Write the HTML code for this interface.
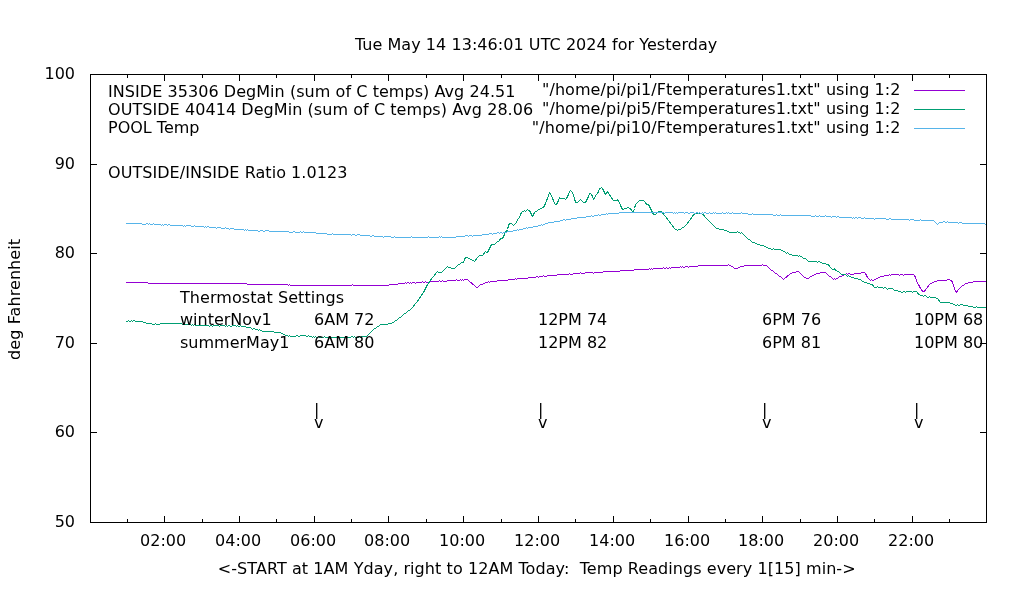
<!DOCTYPE html>
<html lang="en"><head><meta charset="utf-8"><title>Temperatures</title>
<style>
html,body{margin:0;padding:0;background:#fff;}
body{width:1020px;height:600px;overflow:hidden;}
svg{display:block;will-change:transform;}
text{font-family:"DejaVu Sans","Liberation Sans",sans-serif;font-size:16px;fill:#000;}
.e{text-anchor:end} .m{text-anchor:middle}
.ax{fill:none;stroke:#000;stroke-width:1;shape-rendering:crispEdges}
.c,.k{fill:none;stroke-width:1;stroke-linejoin:round;stroke-linecap:square;shape-rendering:crispEdges} .k{stroke-linecap:butt}
</style></head><body>
<svg width="1020" height="600" viewBox="0 0 1020 600">
<rect width="1020" height="600" fill="#fff"/>
<path class="c" stroke="#9400d3" d="M126.5 282.5L147.5 282.5L148.5 283.5L246.5 283.5L247.5 284.5L287.5 284.5L288.5 285.5L289.5 284.5L290.5 285.5L351.5 285.5L352.5 284.5L353.5 285.5L388.5 285.5L389.5 284.5L397.5 284.5L398.5 283.5L404.5 283.5L405.5 282.5L406.5 283.5L407.5 282.5L408.5 282.5L409.5 283.5L410.5 282.5L411.5 283.5L412.5 282.5L414.5 282.5L415.5 283.5L416.5 282.5L421.5 282.5L422.5 281.5L423.5 282.5L424.5 282.5L425.5 281.5L426.5 282.5L428.5 282.5L429.5 281.5L438.5 281.5L439.5 280.5L440.5 281.5L441.5 281.5L442.5 280.5L443.5 281.5L446.5 281.5L447.5 280.5L455.5 280.5L456.5 279.5L457.5 280.5L459.5 280.5L460.5 279.5L461.5 280.5L462.5 279.5L463.5 280.5L464.5 279.5L467.5 279.5L468.5 280.5L469.5 281.5L470.5 282.5L471.5 282.5L472.5 284.5L473.5 284.5L474.5 285.5L475.5 286.5L476.5 287.5L477.5 287.5L478.5 286.5L479.5 285.5L480.5 284.5L482.5 284.5L483.5 283.5L484.5 283.5L485.5 282.5L487.5 282.5L488.5 281.5L489.5 282.5L490.5 281.5L496.5 281.5L497.5 280.5L507.5 280.5L508.5 279.5L514.5 279.5L515.5 278.5L516.5 279.5L517.5 278.5L527.5 278.5L528.5 277.5L535.5 277.5L536.5 276.5L537.5 276.5L538.5 277.5L539.5 276.5L542.5 276.5L543.5 275.5L544.5 276.5L546.5 276.5L547.5 275.5L556.5 275.5L557.5 274.5L568.5 274.5L569.5 273.5L570.5 274.5L572.5 274.5L573.5 273.5L579.5 273.5L580.5 272.5L581.5 273.5L584.5 273.5L585.5 272.5L592.5 272.5L593.5 273.5L594.5 272.5L602.5 272.5L603.5 271.5L619.5 271.5L620.5 270.5L633.5 270.5L634.5 269.5L648.5 269.5L649.5 268.5L650.5 269.5L651.5 268.5L652.5 269.5L653.5 268.5L662.5 268.5L663.5 267.5L664.5 268.5L665.5 268.5L666.5 267.5L667.5 268.5L668.5 268.5L669.5 267.5L670.5 268.5L671.5 267.5L679.5 267.5L680.5 266.5L681.5 267.5L682.5 266.5L683.5 267.5L684.5 267.5L685.5 266.5L687.5 266.5L688.5 267.5L689.5 266.5L697.5 266.5L698.5 265.5L727.5 265.5L728.5 264.5L729.5 265.5L730.5 265.5L731.5 266.5L732.5 266.5L733.5 267.5L734.5 268.5L737.5 268.5L738.5 267.5L739.5 267.5L740.5 266.5L743.5 266.5L744.5 265.5L761.5 265.5L762.5 264.5L763.5 265.5L766.5 265.5L767.5 266.5L768.5 267.5L769.5 268.5L770.5 269.5L771.5 270.5L772.5 270.5L773.5 271.5L774.5 272.5L775.5 273.5L776.5 273.5L777.5 274.5L778.5 275.5L779.5 276.5L780.5 276.5L781.5 277.5L782.5 278.5L783.5 279.5L784.5 278.5L785.5 277.5L786.5 277.5L787.5 275.5L788.5 275.5L789.5 274.5L790.5 273.5L791.5 273.5L792.5 272.5L795.5 272.5L796.5 271.5L798.5 271.5L799.5 272.5L800.5 273.5L801.5 274.5L802.5 275.5L803.5 276.5L804.5 277.5L805.5 277.5L806.5 278.5L808.5 278.5L809.5 277.5L810.5 276.5L811.5 276.5L812.5 275.5L813.5 275.5L814.5 274.5L815.5 274.5L816.5 273.5L819.5 273.5L820.5 272.5L825.5 272.5L826.5 273.5L827.5 274.5L828.5 275.5L829.5 276.5L830.5 276.5L831.5 277.5L832.5 278.5L833.5 279.5L834.5 278.5L835.5 279.5L836.5 278.5L837.5 278.5L838.5 277.5L839.5 276.5L841.5 276.5L842.5 275.5L843.5 275.5L844.5 274.5L845.5 274.5L846.5 273.5L847.5 274.5L848.5 273.5L849.5 273.5L850.5 274.5L853.5 274.5L854.5 273.5L860.5 273.5L861.5 272.5L864.5 272.5L865.5 273.5L866.5 275.5L867.5 277.5L868.5 278.5L869.5 279.5L870.5 280.5L871.5 279.5L872.5 280.5L873.5 280.5L874.5 279.5L875.5 279.5L876.5 278.5L877.5 278.5L878.5 277.5L879.5 277.5L880.5 276.5L883.5 276.5L884.5 275.5L888.5 275.5L889.5 274.5L890.5 275.5L891.5 274.5L898.5 274.5L899.5 275.5L900.5 274.5L902.5 274.5L903.5 275.5L904.5 274.5L913.5 274.5L914.5 275.5L915.5 277.5L916.5 280.5L917.5 283.5L918.5 284.5L919.5 286.5L920.5 288.5L921.5 289.5L922.5 291.5L924.5 291.5L925.5 289.5L926.5 288.5L927.5 287.5L928.5 285.5L929.5 284.5L930.5 283.5L931.5 283.5L932.5 282.5L933.5 282.5L934.5 281.5L936.5 281.5L937.5 280.5L946.5 280.5L947.5 279.5L949.5 279.5L950.5 280.5L951.5 280.5L952.5 282.5L953.5 285.5L954.5 288.5L955.5 291.5L956.5 292.5L957.5 290.5L958.5 289.5L959.5 288.5L960.5 287.5L961.5 286.5L962.5 285.5L963.5 285.5L964.5 284.5L965.5 283.5L967.5 283.5L968.5 282.5L972.5 282.5L973.5 281.5L986.5 281.5"/>
<path class="c" stroke="#009e73" d="M126.5 321.5L127.5 321.5L128.5 320.5L129.5 321.5L130.5 321.5L131.5 320.5L132.5 321.5L133.5 320.5L134.5 320.5L135.5 321.5L142.5 321.5L143.5 322.5L145.5 322.5L146.5 323.5L151.5 323.5L152.5 324.5L154.5 324.5L155.5 323.5L156.5 324.5L159.5 324.5L160.5 323.5L181.5 323.5L182.5 324.5L183.5 323.5L184.5 324.5L190.5 324.5L191.5 325.5L192.5 324.5L193.5 325.5L194.5 324.5L195.5 325.5L208.5 325.5L209.5 326.5L210.5 325.5L211.5 325.5L212.5 326.5L213.5 325.5L218.5 325.5L219.5 326.5L220.5 325.5L224.5 325.5L225.5 326.5L226.5 325.5L227.5 326.5L228.5 325.5L229.5 325.5L230.5 326.5L231.5 326.5L232.5 325.5L235.5 325.5L236.5 326.5L237.5 325.5L238.5 326.5L239.5 326.5L240.5 325.5L241.5 326.5L245.5 326.5L246.5 327.5L250.5 327.5L251.5 328.5L252.5 329.5L253.5 328.5L254.5 328.5L255.5 329.5L257.5 329.5L258.5 330.5L259.5 329.5L260.5 330.5L261.5 330.5L262.5 331.5L273.5 331.5L274.5 332.5L280.5 332.5L281.5 333.5L282.5 333.5L283.5 334.5L284.5 334.5L285.5 335.5L287.5 335.5L288.5 336.5L289.5 335.5L290.5 336.5L295.5 336.5L296.5 335.5L297.5 335.5L298.5 336.5L299.5 336.5L300.5 335.5L305.5 335.5L306.5 336.5L307.5 336.5L308.5 335.5L309.5 336.5L311.5 336.5L312.5 337.5L313.5 336.5L314.5 337.5L315.5 336.5L316.5 337.5L317.5 337.5L318.5 336.5L319.5 337.5L323.5 337.5L324.5 336.5L325.5 337.5L336.5 337.5L337.5 338.5L338.5 337.5L350.5 337.5L351.5 336.5L352.5 336.5L353.5 337.5L354.5 336.5L355.5 337.5L358.5 337.5L359.5 336.5L360.5 337.5L361.5 336.5L366.5 336.5L367.5 335.5L368.5 334.5L369.5 333.5L370.5 332.5L371.5 331.5L372.5 330.5L373.5 329.5L374.5 328.5L375.5 328.5L376.5 327.5L377.5 326.5L378.5 326.5L379.5 325.5L380.5 324.5L387.5 324.5L388.5 323.5L391.5 323.5L392.5 322.5L393.5 322.5L394.5 321.5L395.5 320.5L396.5 320.5L397.5 319.5L398.5 318.5L399.5 317.5L400.5 317.5L401.5 316.5L402.5 315.5L403.5 314.5L404.5 313.5L405.5 313.5L406.5 312.5L407.5 311.5L408.5 310.5L409.5 310.5L410.5 309.5L411.5 308.5L412.5 307.5L413.5 306.5L414.5 304.5L415.5 303.5L416.5 302.5L417.5 301.5L418.5 299.5L419.5 298.5L420.5 296.5L421.5 295.5L422.5 293.5L423.5 292.5L424.5 290.5L425.5 288.5L426.5 286.5L427.5 284.5L428.5 283.5L429.5 281.5L430.5 280.5L431.5 278.5L432.5 277.5L433.5 276.5L434.5 275.5L435.5 273.5L436.5 272.5L437.5 271.5L438.5 272.5L441.5 272.5L442.5 271.5L443.5 270.5L444.5 269.5L445.5 268.5L446.5 267.5L447.5 266.5L448.5 267.5L450.5 267.5L451.5 268.5L454.5 268.5L455.5 267.5L456.5 266.5L457.5 265.5L458.5 264.5L459.5 264.5L460.5 263.5L461.5 262.5L463.5 262.5L464.5 259.5L465.5 257.5L467.5 257.5L468.5 258.5L469.5 258.5L470.5 259.5L471.5 259.5L472.5 260.5L473.5 260.5L474.5 261.5L475.5 260.5L476.5 258.5L477.5 257.5L478.5 256.5L479.5 255.5L482.5 255.5L483.5 254.5L484.5 252.5L485.5 251.5L486.5 252.5L487.5 252.5L488.5 250.5L489.5 248.5L490.5 246.5L491.5 244.5L494.5 244.5L495.5 243.5L496.5 242.5L497.5 241.5L498.5 241.5L499.5 240.5L500.5 238.5L502.5 238.5L503.5 236.5L504.5 234.5L505.5 231.5L506.5 231.5L507.5 229.5L508.5 225.5L509.5 223.5L511.5 223.5L512.5 224.5L513.5 225.5L514.5 224.5L515.5 223.5L516.5 222.5L517.5 219.5L518.5 218.5L519.5 217.5L520.5 214.5L521.5 212.5L522.5 211.5L523.5 211.5L524.5 210.5L525.5 211.5L526.5 210.5L527.5 209.5L528.5 210.5L529.5 210.5L530.5 212.5L531.5 214.5L532.5 216.5L533.5 214.5L534.5 212.5L535.5 211.5L536.5 211.5L537.5 210.5L538.5 209.5L539.5 209.5L540.5 208.5L541.5 208.5L542.5 207.5L543.5 207.5L544.5 205.5L545.5 203.5L546.5 200.5L547.5 198.5L548.5 195.5L549.5 192.5L550.5 194.5L551.5 195.5L552.5 198.5L553.5 200.5L554.5 203.5L555.5 204.5L556.5 204.5L557.5 202.5L558.5 200.5L559.5 197.5L560.5 198.5L564.5 198.5L565.5 199.5L566.5 198.5L567.5 196.5L568.5 194.5L569.5 191.5L570.5 190.5L571.5 191.5L572.5 192.5L573.5 195.5L574.5 198.5L575.5 202.5L577.5 202.5L578.5 201.5L579.5 200.5L580.5 199.5L581.5 200.5L582.5 201.5L583.5 202.5L585.5 202.5L586.5 200.5L587.5 198.5L588.5 196.5L589.5 193.5L590.5 193.5L591.5 194.5L592.5 196.5L593.5 199.5L594.5 198.5L595.5 195.5L596.5 194.5L597.5 193.5L598.5 191.5L599.5 188.5L600.5 188.5L601.5 187.5L602.5 188.5L603.5 190.5L604.5 192.5L605.5 194.5L606.5 193.5L607.5 191.5L608.5 193.5L609.5 194.5L610.5 196.5L611.5 197.5L612.5 199.5L613.5 200.5L616.5 200.5L617.5 199.5L618.5 201.5L619.5 202.5L620.5 205.5L621.5 207.5L622.5 209.5L623.5 209.5L624.5 208.5L626.5 208.5L627.5 207.5L628.5 207.5L629.5 208.5L630.5 208.5L631.5 210.5L632.5 211.5L633.5 211.5L634.5 208.5L635.5 204.5L636.5 203.5L637.5 202.5L638.5 201.5L639.5 200.5L643.5 200.5L644.5 201.5L645.5 202.5L646.5 204.5L648.5 204.5L649.5 206.5L650.5 208.5L651.5 210.5L652.5 212.5L653.5 214.5L655.5 214.5L656.5 213.5L657.5 212.5L658.5 211.5L661.5 211.5L662.5 212.5L663.5 214.5L664.5 215.5L665.5 216.5L666.5 217.5L667.5 219.5L668.5 220.5L669.5 221.5L670.5 223.5L671.5 224.5L672.5 225.5L673.5 227.5L674.5 228.5L675.5 229.5L676.5 229.5L677.5 230.5L678.5 229.5L680.5 229.5L681.5 228.5L682.5 227.5L683.5 227.5L684.5 226.5L685.5 225.5L686.5 224.5L687.5 223.5L688.5 221.5L689.5 220.5L690.5 219.5L691.5 217.5L692.5 216.5L693.5 214.5L694.5 214.5L695.5 213.5L701.5 213.5L702.5 214.5L703.5 214.5L704.5 216.5L705.5 217.5L706.5 218.5L707.5 219.5L708.5 220.5L709.5 221.5L710.5 222.5L711.5 223.5L712.5 224.5L713.5 225.5L714.5 226.5L715.5 227.5L716.5 228.5L718.5 228.5L719.5 229.5L723.5 229.5L724.5 230.5L726.5 230.5L727.5 231.5L728.5 231.5L729.5 232.5L736.5 232.5L737.5 231.5L738.5 232.5L739.5 232.5L740.5 233.5L741.5 232.5L742.5 233.5L743.5 234.5L744.5 235.5L745.5 236.5L746.5 237.5L747.5 238.5L748.5 239.5L749.5 239.5L750.5 240.5L751.5 241.5L752.5 242.5L754.5 242.5L755.5 243.5L756.5 243.5L757.5 244.5L759.5 244.5L760.5 245.5L763.5 245.5L764.5 246.5L765.5 246.5L766.5 247.5L767.5 247.5L768.5 248.5L770.5 248.5L771.5 249.5L772.5 249.5L773.5 248.5L774.5 249.5L780.5 249.5L781.5 250.5L782.5 250.5L783.5 251.5L784.5 251.5L785.5 252.5L786.5 253.5L787.5 252.5L788.5 253.5L789.5 254.5L791.5 254.5L792.5 255.5L797.5 255.5L798.5 256.5L799.5 255.5L800.5 256.5L801.5 256.5L802.5 257.5L803.5 258.5L805.5 258.5L806.5 259.5L807.5 260.5L808.5 261.5L816.5 261.5L817.5 262.5L818.5 261.5L819.5 261.5L820.5 262.5L821.5 262.5L822.5 263.5L825.5 263.5L826.5 264.5L828.5 264.5L829.5 266.5L830.5 267.5L831.5 268.5L832.5 269.5L833.5 269.5L834.5 268.5L835.5 270.5L836.5 270.5L837.5 271.5L838.5 271.5L839.5 272.5L840.5 273.5L841.5 274.5L845.5 274.5L846.5 275.5L847.5 276.5L848.5 275.5L849.5 276.5L850.5 276.5L851.5 277.5L853.5 277.5L854.5 278.5L857.5 278.5L858.5 279.5L860.5 279.5L861.5 280.5L862.5 281.5L863.5 281.5L864.5 282.5L866.5 282.5L867.5 283.5L869.5 283.5L870.5 284.5L872.5 284.5L873.5 286.5L874.5 287.5L876.5 287.5L877.5 286.5L878.5 287.5L882.5 287.5L883.5 288.5L884.5 287.5L885.5 287.5L886.5 288.5L887.5 289.5L888.5 288.5L892.5 288.5L893.5 289.5L894.5 290.5L897.5 290.5L898.5 291.5L900.5 291.5L901.5 292.5L902.5 292.5L903.5 291.5L904.5 291.5L905.5 292.5L906.5 291.5L911.5 291.5L912.5 292.5L913.5 291.5L916.5 291.5L917.5 292.5L918.5 294.5L919.5 294.5L920.5 295.5L922.5 295.5L923.5 296.5L924.5 295.5L925.5 295.5L926.5 296.5L927.5 297.5L928.5 297.5L929.5 296.5L930.5 297.5L935.5 297.5L936.5 298.5L937.5 298.5L938.5 299.5L939.5 301.5L940.5 302.5L949.5 302.5L950.5 303.5L952.5 303.5L953.5 304.5L954.5 304.5L955.5 305.5L956.5 305.5L957.5 304.5L958.5 305.5L959.5 305.5L960.5 304.5L962.5 304.5L963.5 305.5L967.5 305.5L968.5 306.5L972.5 306.5L973.5 307.5L975.5 307.5L976.5 306.5L977.5 307.5L986.5 307.5"/>
<path class="c" stroke="#56b4e9" d="M126.5 223.5L141.5 223.5L142.5 224.5L145.5 224.5L146.5 223.5L147.5 223.5L148.5 224.5L149.5 223.5L150.5 224.5L152.5 224.5L153.5 223.5L154.5 224.5L160.5 224.5L161.5 225.5L162.5 224.5L163.5 225.5L164.5 224.5L166.5 224.5L167.5 225.5L168.5 224.5L169.5 224.5L170.5 225.5L182.5 225.5L183.5 226.5L184.5 225.5L185.5 226.5L186.5 225.5L190.5 225.5L191.5 226.5L193.5 226.5L194.5 225.5L195.5 226.5L203.5 226.5L204.5 227.5L205.5 226.5L206.5 227.5L207.5 226.5L208.5 226.5L209.5 227.5L215.5 227.5L216.5 228.5L217.5 227.5L220.5 227.5L221.5 228.5L224.5 228.5L225.5 227.5L226.5 228.5L228.5 228.5L229.5 229.5L230.5 228.5L233.5 228.5L234.5 229.5L243.5 229.5L244.5 230.5L245.5 229.5L246.5 230.5L247.5 229.5L248.5 230.5L257.5 230.5L258.5 231.5L259.5 231.5L260.5 230.5L262.5 230.5L263.5 231.5L264.5 231.5L265.5 230.5L268.5 230.5L269.5 231.5L288.5 231.5L289.5 232.5L292.5 232.5L293.5 231.5L294.5 231.5L295.5 232.5L299.5 232.5L300.5 231.5L301.5 232.5L302.5 232.5L303.5 231.5L304.5 232.5L315.5 232.5L316.5 233.5L326.5 233.5L327.5 234.5L331.5 234.5L332.5 233.5L333.5 234.5L350.5 234.5L351.5 235.5L352.5 234.5L354.5 234.5L355.5 235.5L356.5 235.5L357.5 234.5L359.5 234.5L360.5 235.5L369.5 235.5L370.5 236.5L371.5 236.5L372.5 235.5L373.5 235.5L374.5 236.5L382.5 236.5L383.5 237.5L384.5 236.5L390.5 236.5L391.5 237.5L393.5 237.5L394.5 236.5L395.5 237.5L410.5 237.5L411.5 236.5L412.5 237.5L427.5 237.5L428.5 236.5L429.5 237.5L438.5 237.5L439.5 236.5L440.5 237.5L441.5 236.5L442.5 237.5L455.5 237.5L456.5 236.5L464.5 236.5L465.5 235.5L467.5 235.5L468.5 236.5L469.5 235.5L471.5 235.5L472.5 236.5L473.5 235.5L481.5 235.5L482.5 234.5L488.5 234.5L489.5 233.5L491.5 233.5L492.5 234.5L493.5 233.5L496.5 233.5L497.5 232.5L498.5 232.5L499.5 233.5L500.5 232.5L501.5 232.5L502.5 233.5L503.5 232.5L506.5 232.5L507.5 231.5L512.5 231.5L513.5 230.5L516.5 230.5L517.5 229.5L518.5 230.5L519.5 229.5L522.5 229.5L523.5 228.5L525.5 228.5L526.5 227.5L527.5 228.5L528.5 227.5L532.5 227.5L533.5 226.5L537.5 226.5L538.5 225.5L540.5 225.5L541.5 224.5L542.5 225.5L543.5 224.5L544.5 224.5L545.5 223.5L547.5 223.5L548.5 222.5L553.5 222.5L554.5 221.5L559.5 221.5L560.5 220.5L562.5 220.5L563.5 219.5L564.5 219.5L565.5 220.5L566.5 219.5L570.5 219.5L571.5 218.5L576.5 218.5L577.5 217.5L585.5 217.5L586.5 216.5L590.5 216.5L591.5 215.5L592.5 216.5L593.5 216.5L594.5 215.5L597.5 215.5L598.5 214.5L599.5 215.5L600.5 215.5L601.5 214.5L605.5 214.5L606.5 213.5L607.5 214.5L608.5 213.5L618.5 213.5L619.5 212.5L663.5 212.5L664.5 213.5L665.5 212.5L672.5 212.5L673.5 213.5L674.5 212.5L675.5 213.5L676.5 212.5L677.5 213.5L678.5 212.5L683.5 212.5L684.5 213.5L685.5 212.5L687.5 212.5L688.5 213.5L689.5 213.5L690.5 212.5L693.5 212.5L694.5 213.5L695.5 213.5L696.5 212.5L697.5 212.5L698.5 213.5L699.5 212.5L700.5 213.5L701.5 213.5L702.5 212.5L703.5 213.5L704.5 212.5L705.5 212.5L706.5 213.5L708.5 213.5L709.5 212.5L710.5 213.5L712.5 213.5L713.5 212.5L714.5 213.5L715.5 212.5L716.5 213.5L721.5 213.5L722.5 212.5L723.5 213.5L725.5 213.5L726.5 212.5L727.5 213.5L728.5 212.5L729.5 213.5L731.5 213.5L732.5 212.5L733.5 213.5L740.5 213.5L741.5 212.5L742.5 213.5L747.5 213.5L748.5 214.5L751.5 214.5L752.5 213.5L753.5 214.5L772.5 214.5L773.5 215.5L775.5 215.5L776.5 214.5L777.5 215.5L779.5 215.5L780.5 214.5L781.5 215.5L810.5 215.5L811.5 216.5L814.5 216.5L815.5 215.5L816.5 216.5L818.5 216.5L819.5 215.5L820.5 216.5L824.5 216.5L825.5 215.5L826.5 216.5L830.5 216.5L831.5 217.5L832.5 216.5L835.5 216.5L836.5 217.5L837.5 216.5L838.5 216.5L839.5 217.5L851.5 217.5L852.5 218.5L853.5 217.5L854.5 218.5L855.5 217.5L856.5 217.5L857.5 218.5L858.5 217.5L860.5 217.5L861.5 218.5L863.5 218.5L864.5 217.5L865.5 218.5L873.5 218.5L874.5 219.5L875.5 218.5L885.5 218.5L886.5 219.5L888.5 219.5L889.5 218.5L890.5 218.5L891.5 219.5L908.5 219.5L909.5 220.5L910.5 219.5L913.5 219.5L914.5 220.5L919.5 220.5L920.5 219.5L921.5 220.5L933.5 220.5L934.5 221.5L935.5 222.5L936.5 223.5L937.5 224.5L938.5 223.5L939.5 222.5L942.5 222.5L943.5 221.5L944.5 221.5L945.5 222.5L946.5 222.5L947.5 221.5L948.5 222.5L957.5 222.5L958.5 223.5L959.5 222.5L961.5 222.5L962.5 223.5L984.5 223.5L985.5 224.5L986.5 224.5"/>
<rect class="ax" x="90.5" y="74.5" width="896" height="448"/>
<path class="ax" d="M127.5 523v-4M127.5 74v4M164.5 523v-7M164.5 74v7M202.5 523v-4M202.5 74v4M239.5 523v-7M239.5 74v7M276.5 523v-4M276.5 74v4M314.5 523v-7M314.5 74v7M351.5 523v-4M351.5 74v4M388.5 523v-7M388.5 74v7M426.5 523v-4M426.5 74v4M463.5 523v-7M463.5 74v7M501.5 523v-4M501.5 74v4M538.5 523v-7M538.5 74v7M575.5 523v-4M575.5 74v4M613.5 523v-7M613.5 74v7M650.5 523v-4M650.5 74v4M688.5 523v-7M688.5 74v7M725.5 523v-4M725.5 74v4M762.5 523v-7M762.5 74v7M800.5 523v-4M800.5 74v4M837.5 523v-7M837.5 74v7M874.5 523v-4M874.5 74v4M912.5 523v-7M912.5 74v7M949.5 523v-4M949.5 74v4M90 164.5h7M987 164.5h-7M90 253.5h7M987 253.5h-7M90 343.5h7M987 343.5h-7M90 432.5h7M987 432.5h-7"/>
<text class="e" x="75" y="79">100</text>
<text class="e" x="75" y="169">90</text>
<text class="e" x="75" y="258">80</text>
<text class="e" x="75" y="348">70</text>
<text class="e" x="75" y="437">60</text>
<text class="e" x="75" y="527">50</text>
<text class="m" x="163.1" y="546">02:00</text>
<text class="m" x="238.1" y="546">04:00</text>
<text class="m" x="313.1" y="546">06:00</text>
<text class="m" x="387.1" y="546">08:00</text>
<text class="m" x="462.1" y="546">10:00</text>
<text class="m" x="537.1" y="546">12:00</text>
<text class="m" x="612.1" y="546">14:00</text>
<text class="m" x="687.1" y="546">16:00</text>
<text class="m" x="761.1" y="546">18:00</text>
<text class="m" x="836.1" y="546">20:00</text>
<text class="m" x="911.1" y="546">22:00</text>
<text x="354.9" y="50" textLength="362.4">Tue May 14 13:46:01 UTC 2024 for Yesterday</text>
<text x="217.8" y="574" textLength="637.8" xml:space="preserve">&lt;-START at 1AM Yday, right to 12AM Today:  Temp Readings every 1[15] min-&gt;</text>
<text textLength="121" transform="translate(20,359.9) rotate(-90)">deg Fahrenheit</text>
<text x="108" y="97" textLength="407.5">INSIDE 35306 DegMin (sum of C temps) Avg 24.51</text>
<text x="108" y="115" textLength="425.2">OUTSIDE 40414 DegMin (sum of C temps) Avg 28.06</text>
<text x="108" y="133">POOL Temp</text>
<text x="108" y="178" textLength="239.4">OUTSIDE/INSIDE Ratio 1.0123</text>
<text x="180" y="303" textLength="164.1">Thermostat Settings</text>
<text x="180" y="325">winterNov1</text>
<text x="180" y="348">summerMay1</text>
<text x="314" y="325">6AM 72</text>
<text x="314" y="348">6AM 80</text>
<text x="314" y="415">|</text>
<text x="314" y="428">v</text>
<text x="538" y="325">12PM 74</text>
<text x="538" y="348">12PM 82</text>
<text x="538" y="415">|</text>
<text x="538" y="428">v</text>
<text x="762" y="325">6PM 76</text>
<text x="762" y="348">6PM 81</text>
<text x="762" y="415">|</text>
<text x="762" y="428">v</text>
<text x="914" y="325">10PM 68</text>
<text x="914" y="348">10PM 80</text>
<text x="914" y="415">|</text>
<text x="914" y="428">v</text>
<text class="e" x="900.5" y="95" textLength="358.5">"/home/pi/pi1/Ftemperatures1.txt" using 1:2</text>
<path class="k" stroke="#9400d3" d="M914 90.5H965"/>
<text class="e" x="900.5" y="114" textLength="358.5">"/home/pi/pi5/Ftemperatures1.txt" using 1:2</text>
<path class="k" stroke="#009e73" d="M914 109.5H965"/>
<text class="e" x="900.5" y="133" textLength="368.7">"/home/pi/pi10/Ftemperatures1.txt" using 1:2</text>
<path class="k" stroke="#56b4e9" d="M914 128.5H965"/>
</svg>
</body></html>
